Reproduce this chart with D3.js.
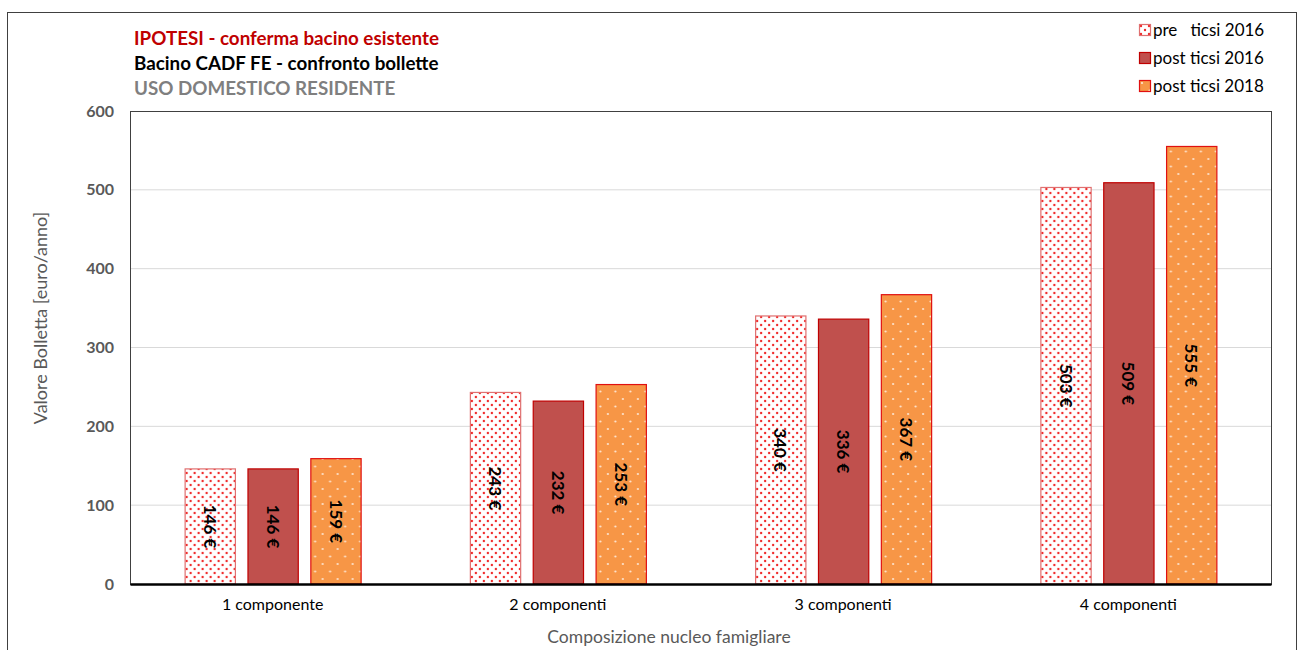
<!DOCTYPE html>
<html>
<head>
<meta charset="utf-8">
<script src="https://cdn.jsdelivr.net/npm/d3@7"></script>
<style>
  body { margin: 0; background: #fff; }
  svg { font-family: Lato, "Open Sans", sans-serif; }
</style>
</head>
<body>
<svg width="1297" height="650"></svg>
<script>
const categories = ["1 componente", "2 componenti", "3 componenti", "4 componenti"];
const seriesNames = ["pre   ticsi 2016", "post ticsi 2016", "post ticsi 2018"];
const preTicsi2016 = [146, 243, 340, 503];
const postTicsi2016 = [146, 232, 336, 509];
const postTicsi2018 = [159, 253, 367, 555];
const yTicks = [0, 100, 200, 300, 400, 500, 600];

const width = 1297, height = 650;
const margin = {top: 111, right: 26, bottom: 66, left: 130};
const plotW = width - margin.left - margin.right,
      plotH = height - margin.top - margin.bottom;

const svg = d3.select("svg");
const defs = svg.append("defs");

// red dots on white
const p1 = defs.append("pattern").attr("id", "dotsRed")
    .attr("patternUnits", "userSpaceOnUse").attr("width", 8).attr("height", 8);
p1.append("rect").attr("width", 8).attr("height", 8).attr("fill", "#fff");
p1.append("circle").attr("cx", 2).attr("cy", 2).attr("r", 1.2).attr("fill", "#f02828");
p1.append("circle").attr("cx", 6).attr("cy", 6).attr("r", 1.2).attr("fill", "#f02828");

// white dots on orange
const p2 = defs.append("pattern").attr("id", "dotsOrange")
    .attr("patternUnits", "userSpaceOnUse").attr("width", 15).attr("height", 15);
p2.append("rect").attr("width", 15).attr("height", 15).attr("fill", "#f79646");
p2.append("circle").attr("cx", 3).attr("cy", 3).attr("r", 1.1).attr("fill", "#fde6d2");
p2.append("circle").attr("cx", 10.5).attr("cy", 10.5).attr("r", 1.1).attr("fill", "#fde6d2");

const fills = ["url(#dotsRed)", "#c0504d", "url(#dotsOrange)"];
const strokes = ["#e07070", "#c00000", "#e01010"];

// outer frame
svg.append("rect").attr("x", 7.5).attr("y", 12.5).attr("width", 1289).attr("height", 660)
    .attr("fill", "none").attr("stroke", "#404040").attr("stroke-width", 1);

const g = svg.append("g").attr("transform", `translate(${margin.left},${margin.top})`);

const x0 = d3.scaleBand().domain(categories).range([0, plotW]);
const x1 = d3.scaleBand().domain(d3.range(3)).range([0, 176]).paddingInner(0.2);
const y = d3.scaleLinear().domain([0, 600]).range([plotH, 0]);

// gridlines
g.append("g").selectAll("line").data(yTicks.slice(1, -1)).join("line")
    .attr("x1", 0).attr("x2", plotW)
    .attr("y1", d => y(d)).attr("y2", d => y(d))
    .attr("stroke", "#d9d9d9").attr("stroke-width", 1);

// plot border
g.append("rect").attr("x", 0.5).attr("y", 0.5).attr("width", plotW).attr("height", plotH)
    .attr("fill", "none").attr("stroke", "#404040").attr("stroke-width", 1);

// y axis
const yAxis = g.append("g").call(d3.axisLeft(y).tickValues(yTicks).tickSize(0).tickPadding(16));
yAxis.select(".domain").remove();
yAxis.selectAll("text").attr("font-size", "16px").attr("font-weight", "bold")
    .attr("fill", "#595959").attr("font-family", "Lato, sans-serif");

// bars
const data = categories.map((c, i) => ({
  cat: c,
  vals: [preTicsi2016[i], postTicsi2016[i], postTicsi2018[i]]
}));

const groups = g.selectAll(".grp").data(data).join("g")
    .attr("transform", d => `translate(${x0(d.cat) + x0.bandwidth() / 2 - 88},0)`);

groups.selectAll("rect").data(d => d.vals).join("rect")
    .attr("x", (d, i) => x1(i) + 0.5)
    .attr("y", d => y(d))
    .attr("width", x1.bandwidth())
    .attr("height", d => plotH - y(d))
    .attr("fill", (d, i) => fills[i])
    .attr("stroke", (d, i) => strokes[i])
    .attr("stroke-width", 1.2);

groups.selectAll("text").data(d => d.vals).join("text")
    .attr("transform", (d, i) => `translate(${x1(i) + x1.bandwidth() / 2},${(y(d) + plotH) / 2}) rotate(90)`)
    .attr("text-anchor", "middle").attr("dy", "0.35em")
    .attr("font-size", "17px").attr("font-weight", "bold").attr("fill", "#000")
    .text(d => d + " €");

// x axis
const xAxis = g.append("g").attr("transform", `translate(0,${plotH})`)
    .call(d3.axisBottom(x0).tickSize(0).tickPadding(15));
xAxis.select(".domain").attr("stroke", "#000").attr("stroke-width", 2.5);
xAxis.selectAll("text").attr("font-size", "16px").attr("fill", "#000")
    .attr("font-family", "Lato, sans-serif");

// axis titles
svg.append("text")
    .attr("transform", "translate(47,318) rotate(-90)")
    .attr("text-anchor", "middle").attr("font-size", "18px").attr("fill", "#595959")
    .text("Valore Bolletta [euro/anno]");

svg.append("text")
    .attr("x", 669).attr("y", 643)
    .attr("text-anchor", "middle").attr("font-size", "17.5px").attr("fill", "#595959")
    .text("Composizione nucleo famigliare");

// titles
const titles = [
  {t: "IPOTESI - conferma bacino esistente", c: "#c00000"},
  {t: "Bacino CADF FE - confronto bollette", c: "#000"},
  {t: "USO DOMESTICO RESIDENTE", c: "#7f7f7f"}
];
svg.selectAll(".title").data(titles).join("text")
    .attr("x", 134).attr("y", (d, i) => 45 + i * 25)
    .attr("font-size", "18.8px").attr("font-weight", "bold")
    .attr("fill", d => d.c).text(d => d.t);

// legend
const leg = svg.append("g").attr("transform", "translate(1139,24)");
const li = leg.selectAll("g").data(seriesNames).join("g")
    .attr("transform", (d, i) => `translate(0,${i * 28})`);
li.append("rect").attr("x", 0.5).attr("y", 0.5).attr("width", 11).attr("height", 11)
    .attr("fill", (d, i) => fills[i]).attr("stroke", (d, i) => strokes[i]).attr("stroke-width", 1.2);
li.append("text").attr("x", 14).attr("y", 12)
    .attr("font-size", "17px").attr("fill", "#000")
    .style("white-space", "pre").text(d => d);
</script>
</body>
</html>
